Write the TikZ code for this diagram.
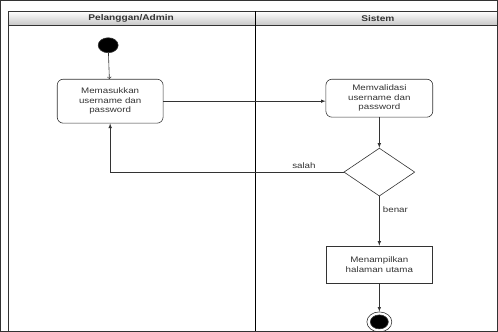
\documentclass[tikz,border=0pt]{standalone}
\usepackage{fontspec}
\setmainfont[FakeStretch=1.22]{Liberation Sans}
\usetikzlibrary{shapes.geometric}

\begin{document}
\begin{tikzpicture}[x=1pt,y=-1pt,every path/.style={>=latex,draw=black!80,line width=0.6pt},
  every node/.style={font=\fontsize{8}{9.5}\selectfont,text=black!80,align=center},
  act/.style={draw,rectangle,rounded corners=6pt,minimum width=106pt,inner sep=1pt},
  lbl/.style={draw=none}]
\useasboundingbox (0,0) rectangle (498,331);
% lanes
\shade[top color=white,bottom color=black!22] (8,11) rectangle (498,25);
\draw (8,331) -- (8,11) -- (498,11);
\draw (8,25) -- (498,25);
\draw[black] (255,11) -- (255,331);
\node[lbl,font=\fontsize{8.3}{10}\selectfont\bfseries] (laneA) at (131,18) {Pelanggan/Admin};
\node[lbl,font=\fontsize{8.3}{10}\selectfont\bfseries] (laneB) at (378,18) {Sistem};
% nodes
\node[draw,ellipse,fill=black,minimum width=20pt,minimum height=15pt,inner sep=0pt] (start) at (108,45) {};
\node[act,minimum height=44pt] (input) at (110,101) {Memasukkan\\username dan\\password};
\node[act,minimum height=38pt,minimum width=107pt] (valid) at (379.5,98) {Memvalidasi\\username dan\\password};
\node[draw,diamond,minimum width=71pt,minimum height=48pt,inner sep=0pt] (cek) at (379.5,172) {};
\node[draw,rectangle,minimum width=107pt,minimum height=37pt,inner sep=1pt] (home) at (379.5,264.5) {Menampilkan\\halaman utama};
\node[draw,ellipse,minimum width=25pt,minimum height=20pt,inner sep=0pt] (stop) at (379.5,322) {};
\node[draw,ellipse,fill=black,minimum width=18pt,minimum height=14pt,inner sep=0pt] (stopin) at (stop) {};
% edges
\draw[-to]             (start) -- (input);
\draw[->]              (input.east) -- (input.east -| valid.west);
\draw[->]              (valid) -- (cek);
\draw[->]              (cek.west) -| node[lbl,above,pos=0.085] (salah) {salah} (input.south);
\draw[->]              (cek) -- node[lbl,right,pos=0.26] (benar) {benar} (home);
\draw[->]              (home) -- (stop);
\end{tikzpicture}
\end{document}
